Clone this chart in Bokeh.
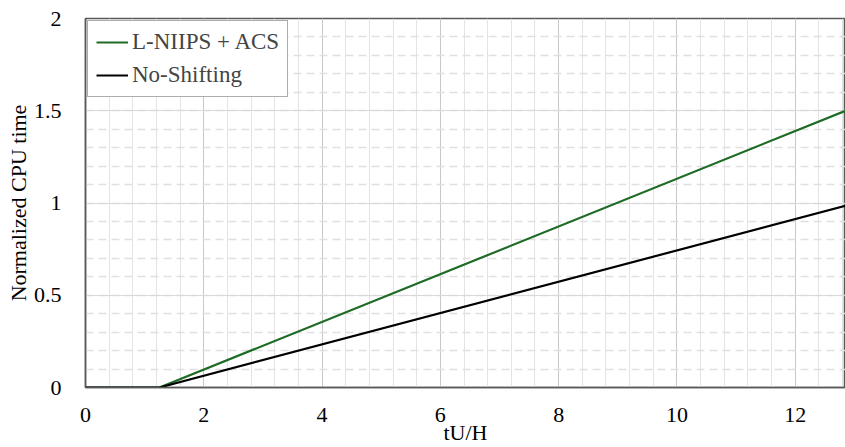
from bokeh.plotting import figure
from bokeh.models import SingleIntervalTicker, Range1d, Legend, LegendItem
from bokeh.embed import file_html
from bokeh.resources import INLINE

x_vals = [0, 1.25, 12.85]
green_vals = [0, 0, 1.5]
black_vals = [0, 0, 0.985]
y_tick_labels = {0: "0", 0.5: "0.5", 1: "1", 1.5: "1.5", 2: "2"}

FONT = "Liberation Serif"

p = figure(width=845, height=447, output_backend="svg", toolbar_location=None,
           x_range=Range1d(0, 12.85), y_range=Range1d(0, 2),
           min_border_left=85, min_border_top=18, min_border_right=0, min_border_bottom=58)
p.outline_line_color = "#595959"
p.outline_line_width = 1.5
p.background_fill_color = "white"
p.border_fill_color = "white"

p.xaxis.ticker = SingleIntervalTicker(interval=2, num_minor_ticks=5)
p.yaxis.ticker = SingleIntervalTicker(interval=0.5, num_minor_ticks=5)
p.yaxis.major_label_overrides = y_tick_labels

for ax in (p.xaxis, p.yaxis):
    ax.axis_line_color = "#595959"
    ax.axis_line_width = 1.5
    ax.major_tick_line_color = None
    ax.minor_tick_line_color = None
    ax.major_label_text_font = FONT
    ax.major_label_text_font_size = "22px"
    ax.major_label_text_color = "#000000"
    ax.axis_label_text_font = FONT
    ax.axis_label_text_font_size = "22px"
    ax.axis_label_text_font_style = "normal"
    ax.axis_label_text_color = "#000000"

p.xaxis.axis_label = "tU/H"
p.yaxis.axis_label = "Normalized CPU time"
p.xaxis.major_label_standoff = 14
p.yaxis.major_label_standoff = 18
p.xaxis.axis_label_standoff = -5
p.yaxis.axis_label_standoff = 0

p.xgrid.grid_line_color = "#c8c8c8"
p.xgrid.grid_line_width = 1
p.xgrid.minor_grid_line_color = "#e3e3e3"
p.xgrid.minor_grid_line_width = 1
p.ygrid.grid_line_color = "#d9d9d9"
p.ygrid.grid_line_width = 1
p.ygrid.minor_grid_line_color = "#e0e0e0"
p.ygrid.minor_grid_line_width = 1.5
p.ygrid.minor_grid_line_dash = "8 5"

r1 = p.line(x_vals, green_vals, line_color="#1e6b26", line_width=2.2)
r2 = p.line(x_vals, black_vals, line_color="#000000", line_width=2.2)

legend = Legend(items=[LegendItem(label="L-NIIPS + ACS", renderers=[r1]),
                       LegendItem(label="No-Shifting", renderers=[r2])],
                location="top_left")
legend.label_text_font = FONT
legend.label_text_font_size = "23px"
legend.border_line_color = "#595959"
legend.border_line_width = 1.2
legend.margin = 2
legend.padding = 8
legend.spacing = 7
legend.glyph_width = 32
legend.label_standoff = 4
legend.label_height = 26
legend.glyph_height = 26
legend.background_fill_alpha = 1
p.add_layout(legend, "center")

open("out.html", "w").write(file_html(p, INLINE))
